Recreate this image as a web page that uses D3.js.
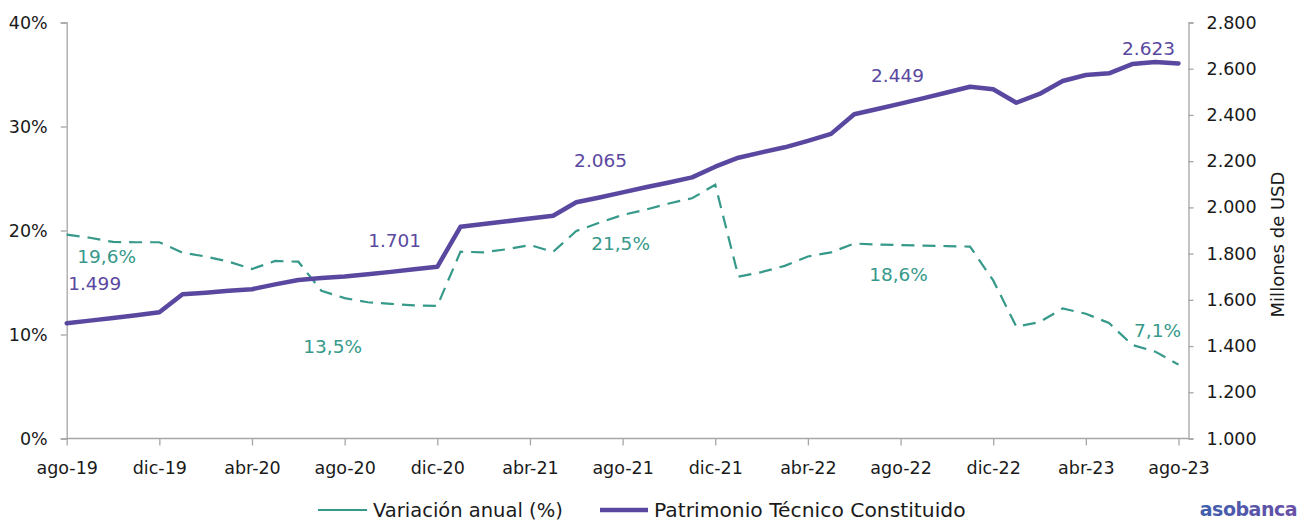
<!DOCTYPE html>
<html>
<head>
<meta charset="utf-8">
<script src="https://cdn.jsdelivr.net/npm/d3@7"></script>
<style>
  body { margin: 0; background: #ffffff; }
  text { font-family: "DejaVu Sans", sans-serif; }
</style>
</head>
<body>
<script>
// categorie: mesi da ago-19 a ago-23
const meses = [
  "ago-19","sep-19","oct-19","nov-19","dic-19",
  "ene-20","feb-20","mar-20","abr-20","may-20","jun-20","jul-20","ago-20",
  "sep-20","oct-20","nov-20","dic-20",
  "ene-21","feb-21","mar-21","abr-21","may-21","jun-21","jul-21","ago-21",
  "sep-21","oct-21","nov-21","dic-21",
  "ene-22","feb-22","mar-22","abr-22","may-22","jun-22","jul-22","ago-22",
  "sep-22","oct-22","nov-22","dic-22",
  "ene-23","feb-23","mar-23","abr-23","may-23","jun-23","jul-23","ago-23"
];

// Patrimonio Técnico Constituido (millones de USD) - asse destro
const patrimonio = [
  1499, 1510, 1521, 1533, 1546,
  1624, 1631, 1639, 1646, 1667, 1686, 1694, 1701,
  1711, 1721, 1732, 1743,
  1916, 1928, 1940, 1952, 1964, 2022, 2043, 2065,
  2087, 2108, 2130, 2176,
  2215, 2238, 2260, 2288, 2318, 2403, 2426, 2449,
  2473, 2497, 2522, 2511,
  2453, 2491, 2547, 2573, 2580, 2620, 2629, 2623
];

// Variación anual (%) - asse sinistro
const variacion = [
  19.6, 19.3, 18.9, 18.87, 18.87,
  17.87, 17.5, 17.0, 16.3, 17.07, 17.0, 14.2, 13.5,
  13.1, 12.95, 12.8, 12.75,
  17.96, 17.9, 18.2, 18.6, 17.95, 19.95, 20.75, 21.5,
  22.0, 22.6, 23.1, 24.4,
  15.56, 16.0, 16.6, 17.5, 17.9, 18.75, 18.65, 18.6,
  18.55, 18.5, 18.45, 15.2,
  10.75, 11.2, 12.5, 12.0, 11.1, 9.0, 8.35, 7.1
];

// tick degli assi
const ticksIzq = [0, 10, 20, 30, 40];
const ticksDer = [1000, 1200, 1400, 1600, 1800, 2000, 2200, 2400, 2600, 2800];
const ticksX = meses.filter((d, i) => i % 4 === 0);

// mesi con etichetta dati
const mesesEtiqueta = ["ago-19", "ago-20", "ago-21", "ago-22", "ago-23"];

// spostamenti delle etichette (px) rispetto al punto
const offPatrimonio = [[28, -40], [50, -36], [-22, -32], [-3, -28], [-30, -15]];
const offVariacion  = [[40, 22], [-12, 48], [-2, 29], [-2, 29], [-21, -34]];

const width = 1306;
const height = 521;

const plot = { left: 66.7, right: 1188.5, lastX: 1178.5, top: 22.5, bottom: 438.5 };

const colPatrimonio = "#5a48a0";
const colVariacion = "#36998a";
const colAsse = "#a6a6a6";

const esLocale = d3.formatLocale({ decimal: ",", thousands: ".", grouping: [3], currency: ["$", ""] });
const fmtMiles = esLocale.format(",");
const fmtPct = esLocale.format(",.1f");

// scale
var xScale = d3.scalePoint().domain(meses).range([plot.left, plot.lastX]);
var yIzq = d3.scaleLinear().domain([0, 40]).range([plot.bottom, plot.top]);
var yDer = d3.scaleLinear().domain([1000, 2800]).range([plot.bottom, plot.top]);

var svg = d3.select("body")
  .append("svg")
  .attr("width", width)
  .attr("height", height)
  .style("background-color", "#ffffff");

// asse sinistro
var axIzq = svg.append("g")
  .attr("transform", "translate(" + plot.left + ",0)")
  .call(d3.axisLeft(yIzq).tickValues(ticksIzq).tickFormat(d => d + "%").tickSizeOuter(0).tickSize(6).tickPadding(13));

// asse destro
var axDer = svg.append("g")
  .attr("transform", "translate(" + plot.right + ",0)")
  .call(d3.axisRight(yDer).tickValues(ticksDer).tickFormat(fmtMiles).tickSizeOuter(0).tickSize(5).tickPadding(13));

// asse x
var axX = svg.append("g")
  .attr("transform", "translate(0," + plot.bottom + ")")
  .call(d3.axisBottom(xScale).tickValues(ticksX).tickSizeOuter(0).tickSize(7).tickPadding(16));
axX.select(".domain").remove();
svg.append("line")
  .attr("x1", plot.left).attr("x2", plot.right)
  .attr("y1", plot.bottom).attr("y2", plot.bottom)
  .attr("stroke", colAsse).attr("stroke-width", 1.3);

[axIzq, axDer, axX].forEach(ax => {
  ax.selectAll("path, line").attr("stroke", colAsse).attr("stroke-width", 1.3);
  ax.selectAll("text").attr("fill", "#1a1a1a").style("font-size", "17.5px").attr("font-family", null);
});

// titolo asse destro
svg.append("text")
  .attr("transform", "translate(1284," + ((plot.top + plot.bottom) / 2 + 14) + ") rotate(-90)")
  .attr("text-anchor", "middle")
  .style("font-size", "18px")
  .attr("fill", "#1a1a1a")
  .text("Millones de USD");

// linee
var lineaVar = d3.line()
  .x((d, i) => xScale(meses[i]))
  .y(d => yIzq(d));
var lineaPat = d3.line()
  .x((d, i) => xScale(meses[i]))
  .y(d => yDer(d));

svg.append("path")
  .datum(variacion)
  .attr("d", lineaVar)
  .attr("fill", "none")
  .attr("stroke", colVariacion)
  .attr("stroke-width", 2.2)
  .attr("stroke-dasharray", "13,8");

svg.append("path")
  .datum(patrimonio)
  .attr("d", lineaPat)
  .attr("fill", "none")
  .attr("stroke", colPatrimonio)
  .attr("stroke-width", 4.5)
  .attr("stroke-linejoin", "round")
  .attr("stroke-linecap", "round");

// etichette dati
mesesEtiqueta.forEach((m, k) => {
  var i = meses.indexOf(m);
  svg.append("text")
    .attr("x", xScale(m) + offPatrimonio[k][0])
    .attr("y", yDer(patrimonio[i]) + offPatrimonio[k][1])
    .attr("dy", "0.35em")
    .attr("text-anchor", "middle")
    .style("font-size", "18.5px")
    .attr("fill", colPatrimonio)
    .text(fmtMiles(patrimonio[i]));
  svg.append("text")
    .attr("x", xScale(m) + offVariacion[k][0])
    .attr("y", yIzq(variacion[i]) + offVariacion[k][1])
    .attr("dy", "0.35em")
    .attr("text-anchor", "middle")
    .style("font-size", "18.5px")
    .attr("fill", colVariacion)
    .text(fmtPct(variacion[i]) + "%");
});

// legenda
var leg = svg.append("g").attr("transform", "translate(0,510)");
leg.append("line").attr("x1", 318).attr("x2", 367).attr("y1", 0).attr("y2", 0)
  .attr("stroke", colVariacion).attr("stroke-width", 2.2);
leg.append("text").attr("x", 373).attr("y", 0).attr("dy", "0.35em")
  .style("font-size", "19.5px").attr("fill", "#1a1a1a").text("Variación anual (%)");
leg.append("line").attr("x1", 600).attr("x2", 648).attr("y1", 0).attr("y2", 0)
  .attr("stroke", colPatrimonio).attr("stroke-width", 4.5);
leg.append("text").attr("x", 654).attr("y", 0).attr("dy", "0.35em")
  .style("font-size", "20.3px").attr("fill", "#1a1a1a").text("Patrimonio Técnico Constituido");

// logo asobanca
var grad = svg.append("defs").append("linearGradient").attr("id", "gradLogo");
grad.append("stop").attr("offset", "0%").attr("stop-color", "#3f5fae");
grad.append("stop").attr("offset", "100%").attr("stop-color", "#6a4fa6");
svg.append("text")
  .attr("x", 1297).attr("y", 516)
  .attr("text-anchor", "end")
  .style("font-size", "19px")
  .style("font-weight", "600")
  .style("letter-spacing", "-0.5px")
  .attr("fill", "url(#gradLogo)")
  .text("asobanca");
</script>
</body>
</html>
